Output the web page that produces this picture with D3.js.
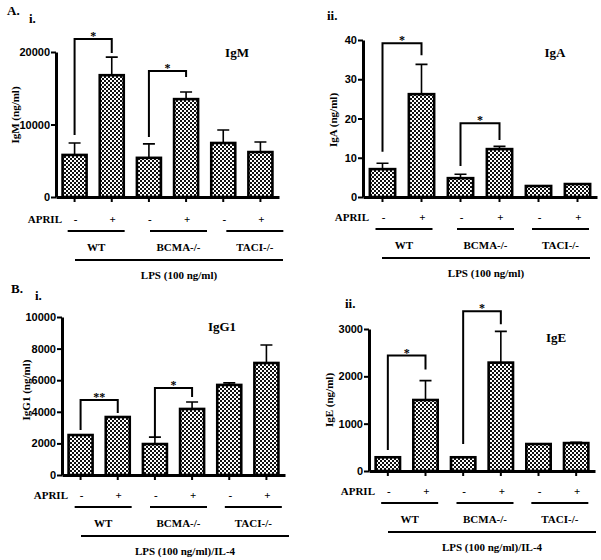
<!DOCTYPE html>
<html>
<head>
<meta charset="utf-8">
<script src="https://cdn.jsdelivr.net/npm/d3@7"></script>
<style>
  html, body { margin: 0; padding: 0; background: #fff; }
  svg { display: block; }
</style>
</head>
<body>
<div id="chart"></div>
<script>
// ---------------- DATA ----------------
const aprilLabels = ["-", "+", "-", "+", "-", "+"];
const genotypes = ["WT", "BCMA-/-", "TACI-/-"];

const igmMean = [5800, 16800, 5400, 13500, 7450, 6200];
const igmSem  = [1650, 2500, 1930, 980, 1790, 1390];
const igmTicks = [0, 10000, 20000];
// [barA, barB, top, leftLegEnd, rightLegEnd, label]
const igmSig = [[0, 1, 21800, 8550, 19860, "*"], [2, 3, 17380, 8280, 16550, "*"]];

const igaMean = [7.1, 26.2, 4.8, 12.2, 2.8, 3.3];
const igaSem  = [1.5, 7.6, 1.0, 0.7, 0, 0];
const igaTicks = [0, 10, 20, 30, 40];
const igaSig = [[0, 1, 39.2, 11.5, 36.1, "*"], [2, 3, 18.8, 7.9, 14.5, "*"]];

const igg1Mean = [2530, 3670, 1960, 4180, 5700, 7090];
const igg1Sem  = [0, 0, 440, 440, 130, 1140];
const igg1Ticks = [0, 2000, 4000, 6000, 8000, 10000];
const igg1Sig = [[0, 1, 4750, 2850, 3920, "**"], [2, 3, 5510, 2400, 4940, "*"]];

const igeMean = [290, 1500, 290, 2290, 570, 590];
const igeSem  = [0, 410, 10, 660, 0, 15];
const igeTicks = [0, 1000, 2000, 3000];
const igeSig = [[0, 1, 2440, 446, 2144, "*"], [2, 3, 3376, 573, 3100, "*"]];

// ---------------- LAYOUT ----------------
const W = 601, H = 560;
const SERIF = "'Liberation Serif', 'Times New Roman', serif";
const SANS = "'Liberation Sans', Arial, sans-serif";

const svg = d3.select("#chart").append("svg")
  .attr("width", W).attr("height", H)
  .attr("viewBox", `0 0 ${W} ${H}`);

const defs = svg.append("defs");
const pat = defs.append("pattern").attr("id", "chk")
  .attr("patternUnits", "userSpaceOnUse").attr("width", 4).attr("height", 4);
pat.append("rect").attr("width", 4).attr("height", 4).attr("fill", "#fff");
pat.append("rect").attr("x", 0).attr("y", 0).attr("width", 2).attr("height", 2).attr("fill", "#111");
pat.append("rect").attr("x", 2).attr("y", 2).attr("width", 2).attr("height", 2).attr("fill", "#111");

function drawPanel(cfg, mean, sem, ticks, sig) {
  const g = svg.append("g");
  const x = d3.scaleBand().domain(d3.range(mean.length))
    .range([cfg.x0, cfg.x1]).paddingInner(0.3).paddingOuter(0.15);
  const y = d3.scaleLinear().domain([ticks[0], ticks[ticks.length - 1]])
    .range([cfg.yBot, cfg.yTop]);
  const cx = i => x(i) + x.bandwidth() / 2;

  // error bars
  g.selectAll(".err").data(mean.map((m, i) => ({m, s: sem[i], i})).filter(d => d.s > 0))
    .enter().append("path")
    .attr("d", d => `M${cx(d.i)},${y(d.m)}V${y(d.m + d.s)}M${cx(d.i) - 6},${y(d.m + d.s)}H${cx(d.i) + 6}`)
    .attr("stroke", "#000").attr("stroke-width", 1.6).attr("fill", "none");

  // bars
  g.selectAll(".bar").data(mean).enter().append("rect")
    .attr("x", (d, i) => x(i) + 1)
    .attr("width", x.bandwidth() - 2)
    .attr("y", d => y(d))
    .attr("height", d => cfg.yBot - y(d))
    .attr("fill", "url(#chk)")
    .attr("stroke", "#000").attr("stroke-width", 2.6);

  // y axis
  const ya = g.append("g").attr("transform", `translate(${cfg.x0},0)`)
    .call(d3.axisLeft(y).tickValues(ticks).tickFormat(d3.format("d"))
      .tickSize(5).tickSizeOuter(0).tickPadding(1));
  ya.select(".domain").attr("stroke-width", 3);
  ya.selectAll(".tick line").attr("stroke-width", 2);
  ya.selectAll("text").attr("font-family", SANS).attr("font-weight", "bold")
    .attr("font-size", 11).attr("fill", "#000");

  // x axis
  const xa = g.append("g").attr("transform", `translate(0,${cfg.yBot})`)
    .call(d3.axisBottom(x).tickSize(5).tickSizeOuter(0).tickFormat(""));
  xa.select(".domain").attr("stroke-width", 3);
  xa.selectAll(".tick line").attr("stroke-width", 2);

  // significance brackets
  sig.forEach(s => {
    const xa0 = cx(s[0]), xb0 = cx(s[1]);
    g.append("path")
      .attr("d", `M${xa0},${y(s[3])}V${y(s[2])}H${xb0}V${y(s[4])}`)
      .attr("fill", "none").attr("stroke", "#000").attr("stroke-width", 2);
    g.append("text").attr("x", (xa0 + xb0) / 2).attr("y", y(s[2]) + 1)
      .attr("text-anchor", "middle").attr("font-family", SERIF)
      .attr("font-weight", "bold").attr("font-size", 12).text(s[5]);
  });

  // title inside plot
  g.append("text").attr("x", cfg.title[1]).attr("y", cfg.title[2])
    .attr("text-anchor", "middle").attr("font-family", SERIF)
    .attr("font-weight", "bold").attr("font-size", 13).text(cfg.title[0]);

  // y label
  g.append("text")
    .attr("transform", `translate(${cfg.ylab[1]},${cfg.ylab[2]}) rotate(-90)`)
    .attr("text-anchor", "middle").attr("font-family", SERIF)
    .attr("font-weight", "bold").attr("font-size", 11).text(cfg.ylab[0]);

  // bottom annotations
  const b = cfg.yBot + cfg.bShift;
  g.append("text").attr("x", cfg.x0 + 6).attr("y", b + 24)
    .attr("text-anchor", "end").attr("font-family", SERIF)
    .attr("font-weight", "bold").attr("font-size", 11).text("APRIL");
  g.selectAll(".ap").data(aprilLabels).enter().append("text")
    .attr("x", (d, i) => cx(i) + 1).attr("y", b + 24)
    .attr("text-anchor", "middle").attr("font-family", SERIF)
    .attr("font-weight", "bold").attr("font-size", 11).text(d => d);
  genotypes.forEach((gt, k) => {
    const mid = (cx(2 * k) + cx(2 * k + 1)) / 2 + cfg.gShift[k];
    g.append("line").attr("x1", mid - 28.5).attr("x2", mid + 28.5)
      .attr("y1", b + 32).attr("y2", b + 32)
      .attr("stroke", "#000").attr("stroke-width", 2);
    g.append("text").attr("x", mid).attr("y", b + 52)
      .attr("text-anchor", "middle").attr("font-family", SERIF)
      .attr("font-weight", "bold").attr("font-size", 11).text(gt);
  });
  g.append("line").attr("x1", cfg.x0 + 19).attr("x2", cfg.x0 + 227)
    .attr("y1", b + 61).attr("y2", b + 61)
    .attr("stroke", "#000").attr("stroke-width", 2);
  g.append("text").attr("x", cfg.x0 + 123).attr("y", b + 80)
    .attr("text-anchor", "middle").attr("font-family", SERIF)
    .attr("font-weight", "bold").attr("font-size", 11).text(cfg.lps);
}

drawPanel({x0: 56, x1: 279, yTop: 52, yBot: 197, bShift: 2, gShift: [3, 11, 13],
  title: ["IgM", 237, 57], ylab: ["IgM (ng/ml)", 18.5, 115], lps: "LPS (100 ng/ml)"},
  igmMean, igmSem, igmTicks, igmSig);
drawPanel({x0: 363, x1: 597, yTop: 40, yBot: 197, bShift: 0, gShift: [2, 5.5, 2.5],
  title: ["IgA", 555, 57], ylab: ["IgA (ng/ml)", 337, 120], lps: "LPS (100 ng/ml)"},
  igaMean, igaSem, igaTicks, igaSig);
drawPanel({x0: 62, x1: 285, yTop: 317, yBot: 475, bShift: 0, gShift: [4, 5, 5.5],
  title: ["IgG1", 222, 331], ylab: ["IgG1 (ng/ml)", 30, 390], lps: "LPS (100 ng/ml)/IL-4"},
  igg1Mean, igg1Sem, igg1Ticks, igg1Sig);
drawPanel({x0: 369, x1: 595, yTop: 329, yBot: 471, bShift: 0, gShift: [3, 3, 2.5],
  title: ["IgE", 556, 342], ylab: ["IgE (ng/ml)", 333, 400], lps: "LPS (100 ng/ml)/IL-4"},
  igeMean, igeSem, igeTicks, igeSig);

// panel letters
const letters = [["A.", 7, 15, 13], ["i.", 29, 23, 13], ["ii.", 327, 20, 13],
                 ["B.", 11, 293, 13], ["i.", 35, 300, 13], ["ii.", 345, 308, 13]];
svg.selectAll(".lt").data(letters).enter().append("text")
  .attr("x", d => d[1]).attr("y", d => d[2])
  .attr("font-family", SERIF).attr("font-weight", "bold")
  .attr("font-size", d => d[3]).text(d => d[0]);
</script>
</body>
</html>
